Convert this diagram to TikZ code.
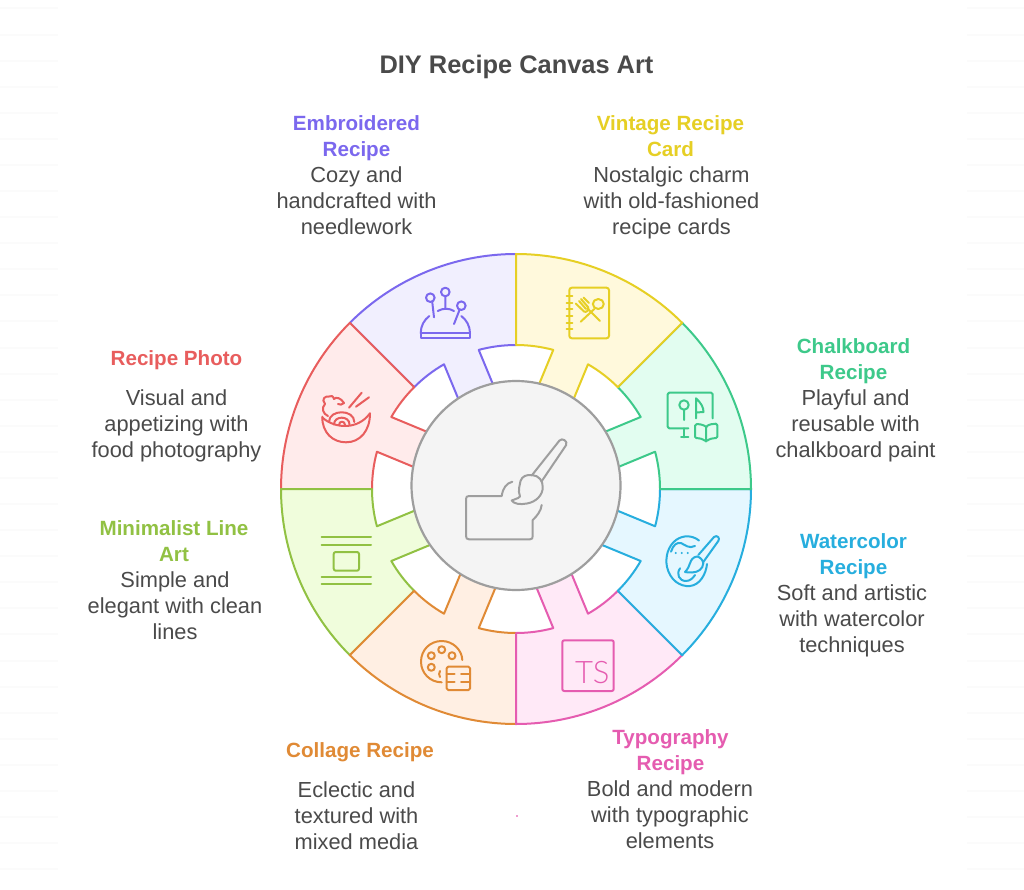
\documentclass[tikz,border=0pt]{standalone}
\usepackage{fontspec}
\setmainfont{Liberation Sans}
\newfontfamily\tsfont{Lato Light}
\usetikzlibrary{calc}
\definecolor{cPurple}{HTML}{7B68EE}\definecolor{fPurple}{HTML}{F1EFFE}
\definecolor{cYellow}{HTML}{E6CF24}\definecolor{fYellow}{HTML}{FFF9DC}
\definecolor{cGreen}{HTML}{3DC98A}\definecolor{fGreen}{HTML}{E2FDF0}
\definecolor{cBlue}{HTML}{27AEDE}\definecolor{fBlue}{HTML}{E5F7FF}
\definecolor{cPink}{HTML}{E55CB0}\definecolor{fPink}{HTML}{FFE9F7}
\definecolor{cOrange}{HTML}{E08A35}\definecolor{fOrange}{HTML}{FFEFE3}
\definecolor{cLime}{HTML}{91C143}\definecolor{fLime}{HTML}{F0FDDC}
\definecolor{cRed}{HTML}{E85D5D}\definecolor{fRed}{HTML}{FFEBEB}
\definecolor{cText}{HTML}{4A4A4A}
\definecolor{cGray}{HTML}{9E9E9E}
\definecolor{fGray}{HTML}{F4F4F4}
\definecolor{cStripe}{HTML}{FBFBFB}
\tikzset{
  labelbase/.style={align=center,inner sep=0pt,yshift=-4pt,execute at begin node=\strut,execute at end node=\strut},
  titletext/.style={labelbase,font=\fontsize{20.6}{26}\selectfont\bfseries},
  bodytext/.style={labelbase,text=cText,font=\fontsize{21.8}{26}\selectfont},
  icon/.style={line width=2pt,line cap=round,line join=round,draw=#1},
}
\newcommand\sector[3]{%
  \filldraw[fill=#2,draw=#3,line width=2pt,line join=round]
    (#1:235) arc[start angle=#1,end angle=#1+45,radius=235]
    -- (#1+45:144) arc[start angle=#1+45,end angle=#1+30,radius=144]
    -- ($(#1+30:144)+(#1+202.5:50)$)
    -- ($(#1+15:144)+(#1+202.5:50)$)
    -- (#1+15:144) arc[start angle=#1+15,end angle=#1,radius=144]
    -- cycle;}
\begin{document}
\begin{tikzpicture}[x=1pt,y=-1pt]
\path[use as bounding box,fill=white] (0,0) rectangle (1024,890);
% faint background stripes
\foreach \k in {0,...,33}{
  \fill[cStripe] (0,{7.5+26.08*\k}) rectangle (58,{9.5+26.08*\k});
  \fill[cStripe] (967,{7.5+26.08*\k}) rectangle (1024,{9.5+26.08*\k});
}
\fill[cPink!60] (515.5,814.5) rectangle (517.5,816.5);
% ring
\begin{scope}[shift={(516,489)},y=1pt]
\sector{90}{fPurple}{cPurple}
\sector{135}{fRed}{cRed}
\sector{180}{fLime}{cLime}
\sector{225}{fOrange}{cOrange}
\sector{270}{fPink}{cPink}
\sector{315}{fBlue}{cBlue}
\sector{0}{fGreen}{cGreen}
\sector{45}{fYellow}{cYellow}
\end{scope}
\node[circle,draw=cGray,fill=fGray,line width=2.2pt,minimum size=209pt,inner sep=0pt] (hub) at (516,485.5) {};
% centre brush
\draw[icon=cGray] (512.3,481.7) .. controls (506,483.5) and (503,488) .. (501.7,496) -- (469,496)
  .. controls (467,496) and (466,497) .. (466,499) -- (466,536)
  .. controls (466,538.3) and (467,539.3) .. (469,539.3) -- (530,539.3)
  .. controls (532,539.3) and (532.7,538.3) .. (532.7,536) -- (532.7,520)
  .. controls (537,516) and (541,511) .. (541.7,505);
\draw[icon=cGray] (531.7,475.5) -- (559.5,440.5) .. controls (562,437.5) and (568,441) .. (566.2,445) -- (541.5,481.5);
\draw[icon=cGray] (520,496.5) .. controls (517.5,490) and (520,485) .. (520.5,481)
  .. controls (522,476) and (527,474.5) .. (532,475)
  .. controls (539,475.5) and (543,481) .. (542.7,487)
  .. controls (543,495) and (536,502) .. (527,503.5)
  .. controls (520,504.8) and (514,504) .. (511.7,500.5)
  .. controls (514,499) and (518,499) .. (520,496.5) -- cycle;
% Embroidered icon
\draw[icon=cPurple] (430.3,297.7) circle (4.3) (445.3,292) circle (4.3) (461.3,305.7) circle (4.3);
\draw[icon=cPurple] (432.3,302.5) -- (434,317.3) (445.3,296.5) -- (445.3,308) (459.5,310) -- (454,324);
\draw[icon=cPurple] (437.7,311) .. controls (443,308) and (449,308) .. (454,311);
\draw[icon=cPurple] (429.3,316) .. controls (424,320) and (420.7,326) .. (420.7,333.3) (461.3,316) .. controls (466.5,320) and (470,326) .. (470,333.3);
\draw[icon=cPurple] (420.7,333.3) -- (470,333.3) -- (470,338.3) -- (420.7,338.3) -- cycle;
% Recipe photo icon
\draw[icon=cRed] (322.3,416.7) .. controls (322,433) and (333,442.3) .. (346,442.3) .. controls (360,442.3) and (370,431) .. (370,413.3);
\draw[icon=cRed] (322.3,417.5) .. controls (335,429) and (358,430) .. (370,413.3);
\draw[icon=cRed] (349,407.7) -- (361.7,392.7) (356,406.7) -- (369,397.3);
\draw[icon=cRed] (329,422) .. controls (329,409) and (354.3,409) .. (354.3,422);
\draw[icon=cRed] (334,424.5) .. controls (334,415.4) and (349.5,415.4) .. (349.5,424.5);
\draw[icon=cRed] (339,425) .. controls (339,420.6) and (345,420.6) .. (345,425);
\draw[icon=cRed] (328,416) .. controls (323,414) and (321,408) .. (325,404)
  .. controls (321,399) and (325,396) .. (329,396.5)
  .. controls (331,395) and (333,396) .. (334,399)
  .. controls (336,396.5) and (341,398) .. (344,403)
  .. controls (342,405) and (340,405) .. (338,404);
% Vintage icon
\draw[icon=cYellow,rounded corners=2.5pt] (569.3,287.7) rectangle (609,338.3);
\foreach \yy in {296,302.7,309.3,316,322.7,329.3}{\draw[icon=cYellow] (566.7,\yy) -- (572.3,\yy);}
\draw[icon=cYellow] (598.3,304) ellipse (5.5 and 5);
\draw[icon=cYellow] (594.3,309) -- (580.7,321.7);
\draw[icon=cYellow] (600,321) -- (587.3,308.3);
\draw[icon=cYellow] (575.7,303.5) -- (584,311.5) .. controls (586,313) and (590,310) .. (588,307) -- (581,299)
  (579,301) -- (586,309) (583.5,297.5) -- (589,303);
% Chalkboard icon
\draw[icon=cGreen,rounded corners=1.5pt] (712.7,418.3) -- (712.7,392.7) -- (667.7,392.7) -- (667.7,428.3) -- (688.3,428.3);
\draw[icon=cGreen] (684,428.3) -- (684,437.3) (681,437.3) -- (688.3,437.3);
\draw[icon=cGreen] (684,405) circle (4.7) (684,409.7) -- (684,420);
\draw[icon=cGreen] (696,418.3) -- (696,398.3) .. controls (701,403) and (703.5,407) .. (703.5,412) -- (696,412.5);
\draw[icon=cGreen,rounded corners=1.5pt] (706,426.7) .. controls (703,424.5) and (699,424) .. (695,424.3) -- (695,438.3) .. controls (699,438) and (703,439) .. (706,441.7) .. controls (709,439) and (713,438) .. (717.3,438.3) -- (717.3,423.7) .. controls (713,423.7) and (709,424.5) .. (706,426.7) -- (706,441.7);
% Watercolor icon
\draw[icon=cBlue] (699,540.5) .. controls (692,535) and (683,535) .. (676,540) .. controls (668,546) and (665,557) .. (667,567) .. controls (670,580) and (680,587) .. (690,586) .. controls (700,585) and (706,574) .. (707,564);
\draw[icon=cBlue] (698.3,555) -- (714,537) .. controls (717,534.5) and (720.5,538) .. (718.3,541) -- (703.3,562);
\draw[icon=cBlue] (697,556.5) .. controls (700,557) and (703,560) .. (703.3,563.3) .. controls (703,569) and (698,572.3) .. (692,572.5) .. controls (689,572.6) and (686,572.3) .. (685,572) .. controls (688,569) and (689,566) .. (690,563.3) .. controls (691,560) and (693,557) .. (697,556.5) -- cycle;
\draw[icon=cBlue] (671,551.7) .. controls (673,545) and (677,542) .. (681,543) .. controls (685,545) and (689,549) .. (695,546);
\fill[cBlue] (675.7,553) circle (1.2) (681.7,553) circle (1.2) (687.7,553) circle (1.2);
\draw[icon=cBlue] (680,568.3) .. controls (676,574) and (679,581) .. (686,581) .. controls (690,581) and (693,578) .. (695,575);
% Typography icon
\draw[icon=cPink,rounded corners=2pt] (562.3,640.3) rectangle (613.7,691);
\node[inner sep=0pt,text=cPink,font=\tsfont\fontsize{31}{31}\selectfont] (tsglyph) at (592.3,672.7) {TS};
% Collage icon
\draw[icon=cOrange] (462.3,660) .. controls (462,650) and (453,641) .. (441.7,641) .. controls (430,641) and (421,650) .. (421,661.7) .. controls (421,673) and (430,682.3) .. (441.7,682.3);
\draw[icon=cOrange] (431.3,655.7) circle (3.5) (441.7,649.7) circle (3.5) (452,655.7) circle (3.5) (431.3,667.3) circle (3.5);
\draw[icon=cOrange] (440,671) .. controls (438.8,673) and (438.8,675) .. (440,677);
\draw[icon=cOrange,rounded corners=1.5pt] (446.7,666.7) rectangle (470,690);
\draw[icon=cOrange] (446.7,674.3) -- (454.5,674.3) (461,674.3) -- (470,674.3) (446.7,682.3) -- (454.5,682.3) (461,682.3) -- (470,682.3);
% Minimalist icon
\draw[icon=cLime] (321.7,537.3) -- (371,537.3) (321.7,545) -- (371,545) (321.7,577) -- (371,577) (321.7,584.3) -- (371,584.3);
\draw[icon=cLime,rounded corners=2pt] (333.7,552) rectangle (359,570.7);
% labels
\node[labelbase,text=cText,font=\fontsize{25.4}{30}\selectfont\bfseries] (title) at (516.5,63.5) {DIY Recipe Canvas Art};
\node[titletext,text=cPurple] (t1) at (356.5,136) {Embroidered\\Recipe};
\node[bodytext] (b1) at (356.5,201) {Cozy and\\handcrafted with\\needlework};
\node[titletext,text=cYellow] (t2) at (670.5,136) {Vintage Recipe\\Card};
\node[bodytext] (b2) at (671.5,201) {Nostalgic charm\\with old-fashioned\\recipe cards};
\node[titletext,text=cGreen] (t3) at (853.5,359) {Chalkboard\\Recipe};
\node[bodytext] (b3) at (855.5,423.5) {Playful and\\reusable with\\chalkboard paint};
\node[titletext,text=cBlue] (t4) at (853.5,554) {Watercolor\\Recipe};
\node[bodytext] (b4) at (852,618.5) {Soft and artistic\\with watercolor\\techniques};
\node[titletext,text=cPink] (t5) at (670.5,750) {Typography\\Recipe};
\node[bodytext] (b5) at (670,814.5) {Bold and modern\\with typographic\\elements};
\node[titletext,text=cOrange] (t6) at (360,748) {Collage Recipe};
\node[bodytext] (b6) at (356.5,815) {Eclectic and\\textured with\\mixed media};
\node[titletext,text=cLime] (t7) at (174,541) {Minimalist Line\\Art};
\node[bodytext] (b7) at (175,605.5) {Simple and\\elegant with clean\\lines};
\node[titletext,text=cRed] (t8) at (176.5,356) {Recipe Photo};
\node[bodytext] (b8) at (176.5,423) {Visual and\\appetizing with\\food photography};
\end{tikzpicture}
\end{document}
